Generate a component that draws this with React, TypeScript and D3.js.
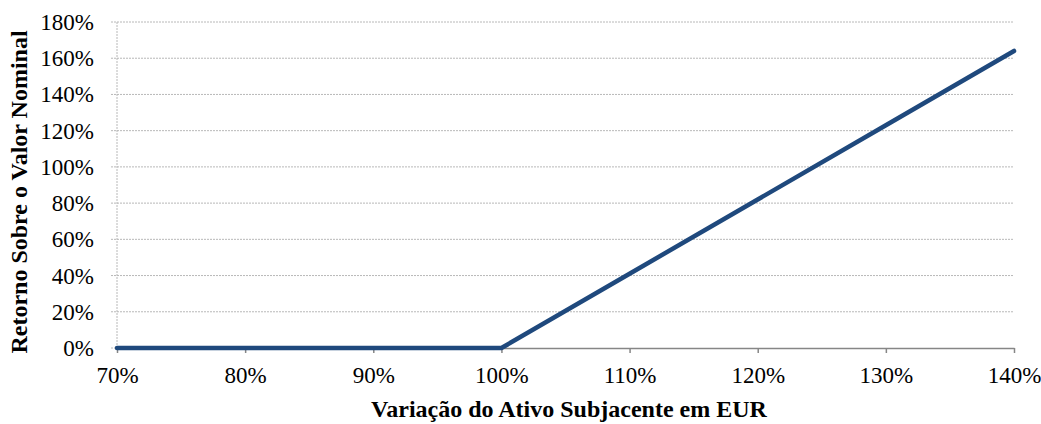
import React from "react";
import * as d3 from "d3";

// underlying variation (x) and return on nominal value (y)
const variation = [0.7, 0.8, 0.9, 1.0, 1.1, 1.2, 1.3, 1.4];
const payoff = [0, 0, 0, 0, 0.41, 0.82, 1.23, 1.64];
const yTicks = [0, 0.2, 0.4, 0.6, 0.8, 1.0, 1.2, 1.4, 1.6, 1.8];
const xTicks = [0.7, 0.8, 0.9, 1.0, 1.1, 1.2, 1.3, 1.4];

const W = 1041;
const H = 424;
const FONT = '"Liberation Serif", "Times New Roman", serif';

const App = () => {
  const ref = React.useRef<SVGSVGElement>(null);

  React.useEffect(() => {
    const svg = d3.select(ref.current);
    svg.selectAll("*").remove();

    const m = { top: 22, right: 27, bottom: 76, left: 117 };
    const x = d3.scaleLinear().domain([0.7, 1.4]).range([m.left, W - m.right]);
    const y = d3.scaleLinear().domain([0, 1.8]).range([H - m.bottom, m.top]);
    const pct = (v: number) => Math.round(v * 100) + "%";

    // gridlines (dotted) with small stubs on the left
    svg.append("g")
      .selectAll("line")
      .data(yTicks.filter((d) => d > 0))
      .join("line")
      .attr("x1", m.left - 6)
      .attr("x2", W - m.right)
      .attr("y1", (d) => y(d))
      .attr("y2", (d) => y(d))
      .attr("stroke", "#b8b8b8")
      .attr("stroke-width", 1)
      .attr("stroke-dasharray", "2,1");

    // y axis dotted line
    svg.append("line")
      .attr("x1", m.left).attr("x2", m.left)
      .attr("y1", y(1.8)).attr("y2", y(0))
      .attr("stroke", "#b8b8b8")
      .attr("stroke-dasharray", "2,1");
    svg.append("line")
      .attr("x1", m.left - 6).attr("x2", m.left)
      .attr("y1", y(0)).attr("y2", y(0))
      .attr("stroke", "#b8b8b8")
      .attr("stroke-dasharray", "2,1");

    // y tick labels
    svg.append("g")
      .selectAll("text")
      .data(yTicks)
      .join("text")
      .attr("x", m.left - 23)
      .attr("y", (d) => y(d))
      .attr("dy", "0.35em")
      .attr("text-anchor", "end")
      .attr("font-family", FONT)
      .attr("font-size", 23)
      .attr("fill", "#000")
      .text(pct);

    // x axis
    const xAxis = svg.append("g")
      .attr("transform", `translate(0,${y(0)})`)
      .call(d3.axisBottom(x).tickValues(xTicks).tickSize(5).tickSizeOuter(0).tickPadding(14).tickFormat((d) => pct(+d)));
    xAxis.select(".domain").attr("stroke", "#868686").attr("stroke-width", 1.5);
    xAxis.selectAll(".tick line").attr("stroke", "#868686").attr("stroke-width", 1.5);
    xAxis.selectAll(".tick text")
      .attr("font-family", FONT)
      .attr("font-size", 23)
      .attr("fill", "#000");

    // payoff line
    const line = d3.line<number>()
      .x((_, i) => x(variation[i]))
      .y((d) => y(d));
    svg.append("path")
      .datum(payoff)
      .attr("d", line)
      .attr("fill", "none")
      .attr("stroke", "#1f497d")
      .attr("stroke-width", 4.5)
      .attr("stroke-linecap", "round")
      .attr("stroke-linejoin", "round");

    // axis titles
    svg.append("text")
      .attr("x", 569)
      .attr("y", 417)
      .attr("text-anchor", "middle")
      .attr("font-family", FONT)
      .attr("font-size", 24)
      .attr("font-weight", "bold")
      .text("Variação do Ativo Subjacente em EUR");

    svg.append("text")
      .attr("transform", `translate(27,192) rotate(-90)`)
      .attr("text-anchor", "middle")
      .attr("font-family", FONT)
      .attr("font-size", 24)
      .attr("font-weight", "bold")
      .text("Retorno Sobre o Valor Nominal");
  }, []);

  return (
    <svg
      ref={ref}
      width={W}
      height={H}
      style={{ position: "absolute", left: 0, top: 0, background: "#fff" }}
    />
  );
};

export default App;
